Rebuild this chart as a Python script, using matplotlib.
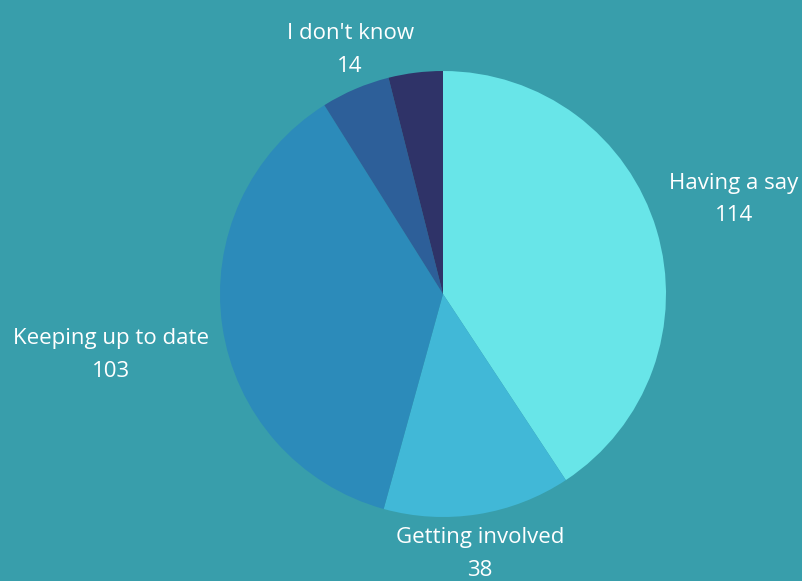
import numpy as np
import matplotlib.pyplot as plt

# Answers per category, clockwise from 12 o'clock
categories = ["Having a say", "Getting involved", "Keeping up to date", "I don't know", ""]
values = [114, 38, 103, 14, 11]
colors = ["#68E5E8", "#41B8D7", "#2C8BBA", "#2D5F99", "#2F3368"]
bg = "#389EAB"

plt.rcParams['font.family'] = ['Open Sans', 'DejaVu Sans']

fig = plt.figure(figsize=(8.03, 5.81), dpi=100, facecolor=bg)
ax = fig.add_axes([220 / 803, 64 / 581, 446 / 803, 446 / 581])
ax.set_facecolor(bg)

wedges, _ = ax.pie(values, colors=colors, startangle=90, counterclock=False,
                   radius=1, wedgeprops=dict(linewidth=0))
ax.set_xlim(-1, 1)
ax.set_ylim(-1, 1)
ax.set_aspect('equal')
ax.axis('off')

# labels sit just outside the rim, aligned away from the centre
for w, name, v in zip(wedges, categories, values):
    if not name:
        continue
    mid = np.deg2rad((w.theta1 + w.theta2) / 2)
    x, y = np.cos(mid), np.sin(mid)
    ha = 'left' if x > 0.5 else ('right' if x < -0.5 else 'center')
    va = 'bottom' if y > 0 else 'top'
    ax.text(1.06 * x, 1.06 * y, f"{name}\n{v}", ha=ha, va=va, multialignment='center',
            color='white', fontsize=16, linespacing=1.7)

fig.savefig("out.png", dpi=100, facecolor=bg)
